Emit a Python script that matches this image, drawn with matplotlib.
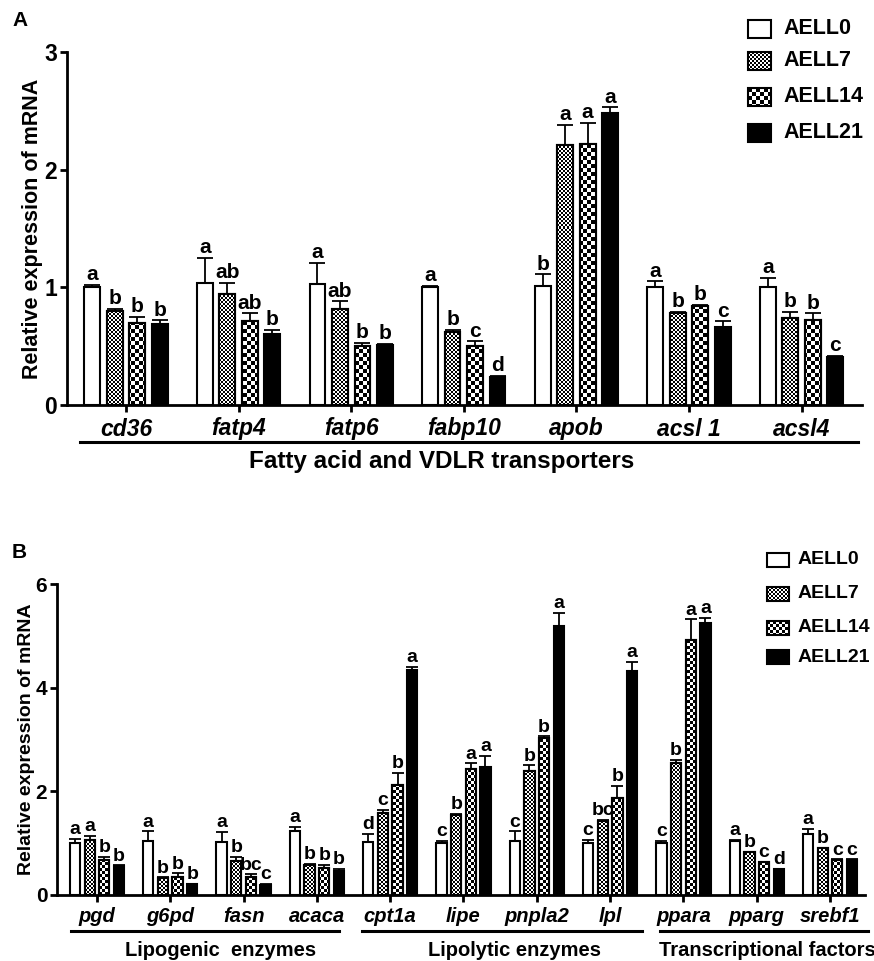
import numpy as np
import matplotlib
matplotlib.use('Agg')
import matplotlib.pyplot as plt
from matplotlib.path import Path
from matplotlib.patches import Rectangle

plt.rcParams['font.family'] = ['Liberation Sans', 'DejaVu Sans']

W, H = 874, 961   # figure size in pixels (dpi 100)

groups = ['AELL0', 'AELL7', 'AELL14', 'AELL21']

# --- Panel A: fatty acid and VDLR transporters
genes_a = ['cd36', 'fatp4', 'fatp6', 'fabp10', 'apob', 'acsl 1', 'acsl4']
a_0 = [1.00, 1.04, 1.03, 1.00, 1.01, 1.00, 1.00]
a_7 = [0.80, 0.94, 0.82, 0.62, 2.21, 0.78, 0.74]
a_14 = [0.70, 0.71, 0.50, 0.50, 2.22, 0.84, 0.72]
a_21 = [0.69, 0.60, 0.51, 0.24, 2.48, 0.66, 0.41]
a_0_err = [0.02, 0.21, 0.18, 0.01, 0.10, 0.05, 0.08]
a_7_err = [0.02, 0.10, 0.06, 0.02, 0.17, 0.01, 0.05]
a_14_err = [0.05, 0.07, 0.03, 0.04, 0.18, 0.01, 0.06]
a_21_err = [0.03, 0.04, 0.01, 0.01, 0.05, 0.05, 0.01]
a_letters = [['a', 'b', 'b', 'b'], ['a', 'ab', 'ab', 'b'], ['a', 'ab', 'b', 'b'],
             ['a', 'b', 'c', 'd'], ['b', 'a', 'a', 'a'], ['a', 'b', 'b', 'c'],
             ['a', 'b', 'b', 'c']]
a_title = 'Fatty acid and VDLR transporters'

# --- Panel B: lipid metabolism genes
genes_b = ['pgd', 'g6pd', 'fasn', 'acaca', 'cpt1a', 'lipe', 'pnpla2', 'lpl',
           'ppara', 'pparg', 'srebf1']
b_0 = [1.01, 1.04, 1.03, 1.24, 1.03, 1.00, 1.04, 1.00, 1.00, 1.05, 1.18]
b_7 = [1.07, 0.32, 0.66, 0.58, 1.59, 1.55, 2.40, 1.43, 2.55, 0.82, 0.90]
b_14 = [0.67, 0.35, 0.35, 0.53, 2.12, 2.44, 3.02, 1.88, 4.91, 0.63, 0.67]
b_21 = [0.56, 0.21, 0.19, 0.47, 4.34, 2.46, 5.19, 4.32, 5.25, 0.50, 0.67]
b_0_err = [0.08, 0.19, 0.19, 0.08, 0.15, 0.04, 0.19, 0.07, 0.04, 0.01, 0.10]
b_7_err = [0.07, 0.02, 0.08, 0.02, 0.05, 0.02, 0.10, 0.02, 0.06, 0.01, 0.01]
b_14_err = [0.06, 0.07, 0.05, 0.05, 0.24, 0.10, 0.04, 0.23, 0.41, 0.01, 0.02]
b_21_err = [0.01, 0.01, 0.02, 0.04, 0.06, 0.22, 0.26, 0.18, 0.10, 0.01, 0.02]
b_letters = [['a', 'a', 'b', 'b'], ['a', 'b', 'b', 'b'], ['a', 'b', 'bc', 'c'],
             ['a', 'b', 'b', 'b'], ['d', 'c', 'b', 'a'], ['c', 'b', 'a', 'a'],
             ['c', 'b', 'b', 'a'], ['c', 'bc', 'b', 'a'], ['c', 'b', 'a', 'a'],
             ['a', 'b', 'c', 'd'], ['a', 'b', 'c', 'c']]
b_sections = ['Lipogenic  enzymes', 'Lipolytic enzymes', 'Transcriptional factors']
b_section_span = [(-1.8, 16.5), (18.1, 37.2), (38.4, 52.6)]   # underline extent (x units)
b_section_x = [8.4, 28.5, 45.7]


def checker(h, w, cell):
    ii, jj = np.indices((h, w))
    return ((ii // cell + jj // cell) % 2).astype(float)


def draw_panel(ax, genes, means, errs, letters, ymax, yticks, px, cells,
               fs_tick, fs_gene, fs_let, cap):
    n = len(genes)
    centers = np.arange(n) * 5.0
    offs = [-1.5, -0.5, 0.5, 1.5]
    xlim = ax.get_xlim()
    for k in range(4):
        x = centers + offs[k]
        face = 'black' if k == 3 else 'white'
        bars = ax.bar(x, means[k], width=0.7, color=face, edgecolor='black',
                      linewidth=1.5, zorder=1)
        if k in (1, 2):
            img = checker(px[1], px[0], cells[k - 1])
            im = ax.imshow(img, cmap='gray', vmin=0, vmax=1, origin='lower',
                           extent=(xlim[0], xlim[1], 0, ymax), aspect='auto',
                           interpolation='nearest', zorder=2)
            clip = Path.make_compound_path(
                *[b.get_path().transformed(b.get_patch_transform()) for b in bars])
            im.set_clip_path(clip, ax.transData)
            ax.bar(x, means[k], width=0.7, fill=False, edgecolor='black',
                   linewidth=1.5, zorder=3)
        ax.errorbar(x, means[k], yerr=[np.zeros(n), errs[k]], fmt='none',
                    ecolor='black', elinewidth=1.3, capsize=cap, capthick=1.3,
                    zorder=4)
        for i in range(n):
            ax.annotate(letters[i][k], (x[i], means[k][i] + errs[k][i]),
                        xytext=(0, 0.5), textcoords='offset points',
                        ha='center', va='bottom', fontsize=fs_let,
                        fontweight='bold')
    ax.set_xlim(xlim)
    ax.set_ylim(0, ymax)
    ax.set_yticks(yticks)
    ax.set_xticks(centers)
    ax.set_xticklabels(genes, fontsize=fs_gene, fontweight='bold', style='italic')
    for lab in ax.get_yticklabels():
        lab.set_fontsize(fs_tick)
        lab.set_fontweight('bold')
    ax.tick_params(axis='both', width=2, length=5, direction='out')
    ax.tick_params(axis='x', pad=4)
    ax.tick_params(axis='y', pad=2)
    for s in ['top', 'right']:
        ax.spines[s].set_visible(False)
    for s in ['left', 'bottom']:
        ax.spines[s].set_linewidth(2)
    return centers


fig = plt.figure(figsize=(W / 100, H / 100), dpi=100)

# axes boxes in pixels: left, right, y of zero, y of top
A_box = (67, 862, 405, 52)
B_box = (57, 865, 895, 584)


def add_ax(box):
    l, r, y0, yt = box
    return fig.add_axes([l / W, 1 - y0 / H, (r - l) / W, (y0 - yt) / H])


# ---- Panel A
axA = add_ax(A_box)
axA.set_xlim((A_box[0] - 126) / 22.52, (A_box[1] - 126) / 22.52)
draw_panel(axA, genes_a, [a_0, a_7, a_14, a_21], [a_0_err, a_7_err, a_14_err, a_21_err],
           a_letters, 3, [0, 1, 2, 3], (A_box[1] - A_box[0], A_box[2] - A_box[3]),
           (2, 4), 16.5, 16.5, 15, 6)
axA.set_ylabel('Relative expression of mRNA', fontsize=15.5, fontweight='bold')
axA.yaxis.set_label_coords(-0.03, 0.5)
axA.plot([-2.05, 32.5], [-0.104, -0.104], color='black', lw=2.2, clip_on=False,
         transform=axA.get_xaxis_transform())
axA.text(14.0, -0.159, a_title, transform=axA.get_xaxis_transform(),
         ha='center', va='center', fontsize=17.5, fontweight='bold')

# ---- Panel B
axB = add_ax(B_box)
axB.set_xlim((B_box[0] - 97) / 14.66, (B_box[1] - 97) / 14.66)
draw_panel(axB, genes_b, [b_0, b_7, b_14, b_21], [b_0_err, b_7_err, b_14_err, b_21_err],
           b_letters, 6, [0, 2, 4, 6], (B_box[1] - B_box[0], B_box[2] - B_box[3]),
           (2, 3), 15, 14.5, 14, 4.5)
axB.set_ylabel('Relative expression of mRNA', fontsize=14, fontweight='bold')
axB.yaxis.set_label_coords(-0.027, 0.5)
for (x0, x1), name, tx in zip(b_section_span, b_sections, b_section_x):
    axB.plot([x0, x1], [-0.115, -0.115], color='black', lw=2.2,
             clip_on=False, transform=axB.get_xaxis_transform())
    axB.text(tx, -0.177, name, transform=axB.get_xaxis_transform(),
             ha='center', va='center', fontsize=14.5, fontweight='bold')

# ---- overlay for panel letters and legends (pixel coordinates)
ov = fig.add_axes([0, 0, 1, 1], zorder=10)
ov.set_xlim(0, W)
ov.set_ylim(H, 0)
ov.axis('off')
ov.text(12, 21, 'A', fontsize=15, fontweight='bold', va='center', ha='left')
ov.text(12, 552, 'B', fontsize=15, fontweight='bold', va='center', ha='left')


def legend(x0, rows, bw, bh, tx, fs, cells):
    for k, (lab, yc) in enumerate(zip(groups, rows)):
        y0 = yc - bh / 2
        face = 'black' if k == 3 else 'white'
        ov.add_patch(Rectangle((x0, y0), bw, bh, facecolor=face, edgecolor='none', zorder=1))
        if k in (1, 2):
            ov.imshow(checker(int(bh), int(bw), cells[k - 1]), cmap='gray', vmin=0, vmax=1,
                      extent=(x0, x0 + bw, y0 + bh, y0), aspect='auto',
                      interpolation='nearest', zorder=2)
        ov.add_patch(Rectangle((x0, y0), bw, bh, fill=False, edgecolor='black',
                               linewidth=1.5, zorder=3))
        ov.text(tx, yc, lab, fontsize=fs, fontweight='bold', va='center', ha='left')


legend(748, [29, 61, 97, 133], 23, 18, 783, 15.5, (2, 4))
legend(767, [560, 594, 628, 657], 22, 14, 798, 14, (2, 3))
ov.set_xlim(0, W)
ov.set_ylim(H, 0)

fig.savefig('out.png', dpi=100)
